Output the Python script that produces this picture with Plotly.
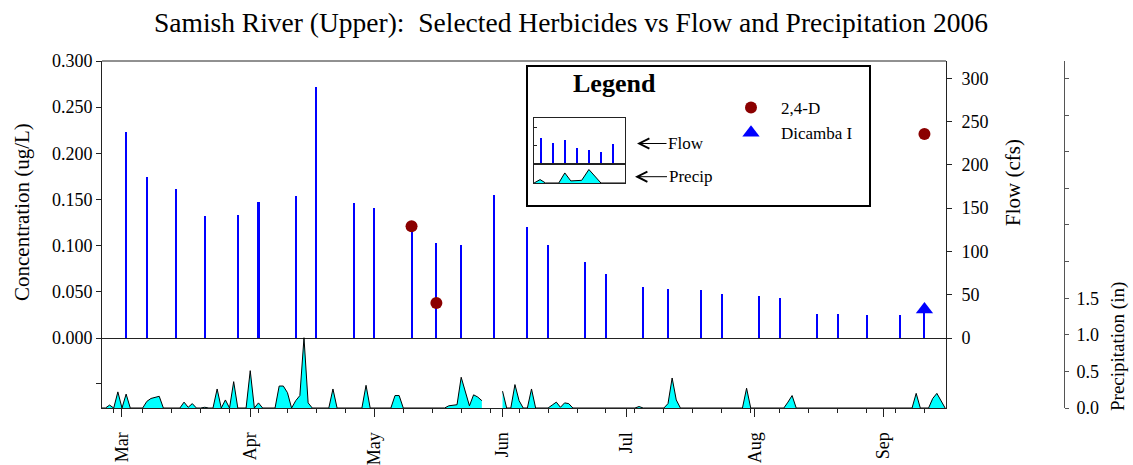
import plotly.graph_objects as go

# ---------------- data ----------------
flow_dates = ["2006-03-02", "2006-03-07", "2006-03-14", "2006-03-21", "2006-03-29",
              "2006-04-03", "2006-04-12", "2006-04-17", "2006-04-26", "2006-05-01",
              "2006-05-10", "2006-05-16", "2006-05-22", "2006-05-30", "2006-06-07",
              "2006-06-12", "2006-06-21", "2006-06-26", "2006-07-05", "2006-07-11",
              "2006-07-19", "2006-07-24", "2006-08-02", "2006-08-07", "2006-08-16",
              "2006-08-21", "2006-08-28", "2006-09-05", "2006-09-11"]
flow_cfs = [238, 186, 172, 141, 142, 157, 164, 290, 156, 150,
            128, 110, 108, 165, 128, 107, 88, 74, 59, 57,
            55, 51, 48, 46, 28, 28, 26.5, 26.5, 30]

d24_dates = ["2006-05-10", "2006-05-16", "2006-09-11"]
d24_conc = [0.121, 0.038, 0.221]
dicamba_dates = ["2006-09-11"]
dicamba_conc = [0.031]

precip_dates = ["2006-02-24", "2006-02-25", "2006-02-26", "2006-02-27", "2006-02-28",
                "2006-03-01", "2006-03-02", "2006-03-03", "2006-03-06", "2006-03-07",
                "2006-03-08", "2006-03-09", "2006-03-10", "2006-03-11", "2006-03-13",
                "2006-03-14", "2006-03-15", "2006-03-16", "2006-03-17", "2006-03-18",
                "2006-03-19", "2006-03-20", "2006-03-21", "2006-03-22", "2006-03-23",
                "2006-03-24", "2006-03-25", "2006-03-26", "2006-03-27", "2006-03-28",
                "2006-03-29", "2006-03-31", "2006-04-01", "2006-04-02", "2006-04-03",
                "2006-04-04", "2006-04-07", "2006-04-08", "2006-04-09", "2006-04-10",
                "2006-04-11", "2006-04-12", "2006-04-13", "2006-04-14", "2006-04-15",
                "2006-04-16", "2006-04-20", "2006-04-21", "2006-04-22", "2006-04-28",
                "2006-04-29", "2006-04-30", "2006-05-05", "2006-05-06", "2006-05-07",
                "2006-05-08", "2006-05-18", "2006-05-19", "2006-05-20", "2006-05-21",
                "2006-05-22", "2006-05-23", "2006-05-24", "2006-05-25", "2006-05-26",
                "2006-05-27", "2006-05-29", "2006-06-01", "2006-06-02", "2006-06-03",
                "2006-06-04", "2006-06-05", "2006-06-06", "2006-06-07", "2006-06-08",
                "2006-06-09", "2006-06-12", "2006-06-13", "2006-06-14", "2006-06-15",
                "2006-06-16", "2006-06-17", "2006-06-18", "2006-07-03", "2006-07-04",
                "2006-07-05", "2006-07-10", "2006-07-11", "2006-07-12", "2006-07-13",
                "2006-07-14", "2006-07-29", "2006-07-30", "2006-07-31", "2006-08-08",
                "2006-08-09", "2006-08-10", "2006-08-11", "2006-09-08", "2006-09-09",
                "2006-09-10", "2006-09-12", "2006-09-13", "2006-09-14", "2006-09-15",
                "2006-09-16"]
precip_in = [0, 0, 0.04, 0, 0.22,
             0, 0.19, 0, 0, 0.09,
             0.13, 0.15, 0.16, 0, 0,
             0.01, 0, 0.08, 0.01, 0.06,
             0, 0, 0.01, 0, 0,
             0.26, 0, 0.11, 0, 0.36,
             0, 0, 0.51, 0, 0.07,
             0, 0, 0.30, 0.30, 0.21,
             0, 0.10, 0.17, 0.96, 0.07,
             0, 0, 0.26, 0, 0,
             0.31, 0, 0, 0.17, 0.17,
             0, 0, 0.03, 0.04, 0.045,
             0.42, 0.23, 0.03, 0.18, 0.15,
             0.10, None, 0.23, 0, 0,
             0.32, 0.10, 0, 0, 0.26,
             0, 0, 0.04, 0.08, 0.01,
             0.07, 0.06, 0, 0, 0.02,
             0, 0, 0.06, 0.41, 0.11,
             0, 0, 0.27, 0, 0,
             0.08, 0.17, 0, 0, 0.20,
             0, 0, 0.13, 0.20, 0.10,
             0]

conc_ticks = [0.0, 0.05, 0.10, 0.15, 0.20, 0.25, 0.30]
flow_ticks = [0, 50, 100, 150, 200, 250, 300]
precip_ticks = [0.0, 0.5, 1.0, 1.5, 2.0, 2.5, 3.0, 3.5, 4.0, 4.5]
precip_ticktext = ["0.0", "0.5", "1.0", "1.5", "", "", "", "", "", ""]

# legend illustration (schematic values)
legend_flow_x = [1, 2, 3, 4, 5, 6, 7]
legend_flow_y = [5.6, 4.5, 5.2, 3.4, 3.0, 2.7, 4.3]
legend_precip_x = [0.45, 0.95, 1.4, 2.5, 3.0, 3.5, 4.4, 5.0, 6.0, 8.0]
legend_precip_y = [0, 0.18, 0, 0, 0.53, 0.11, 0.14, 0.71, 0, 0]

FONT = "Liberation Serif"
AX = "#222222"
DAY_MS = 86400000

fig = go.Figure()

fig.add_trace(go.Bar(x=flow_dates, y=flow_cfs, width=0.5 * DAY_MS,
                     marker=dict(color="#0000FF", line=dict(width=0)),
                     xaxis="x", yaxis="y", showlegend=False, name="Flow"))

# precipitation: split into continuous runs at missing values
runs, cur = [], ([], [])
for d, v in zip(precip_dates, precip_in):
    if v is None:
        if cur[0]:
            runs.append(cur)
        cur = ([], [])
    else:
        cur[0].append(d)
        cur[1].append(v)
if cur[0]:
    runs.append(cur)
for xs, ys in runs:
    fig.add_trace(go.Scatter(x=xs, y=ys, mode="lines",
                             line=dict(color="black", width=1), fill="tozeroy",
                             fillcolor="#00FFFF", xaxis="x", yaxis="y4",
                             showlegend=False, name="Precip"))

# lower panel frame axis (no data of its own)
fig.add_trace(go.Scatter(x=[], y=[], xaxis="x", yaxis="y3", showlegend=False,
                         hoverinfo="skip"))

fig.add_trace(go.Scatter(x=d24_dates, y=d24_conc, mode="markers", name="2,4-D",
                         marker=dict(symbol="circle", size=12, color="#8B0000"),
                         xaxis="x", yaxis="y2"))
fig.add_trace(go.Scatter(x=dicamba_dates, y=dicamba_conc, mode="markers", name="Dicamba I",
                         marker=dict(symbol="triangle-up", size=15, color="#0000FF"),
                         xaxis="x", yaxis="y2"))

# legend illustration inset
fig.add_trace(go.Bar(x=legend_flow_x, y=legend_flow_y, width=0.17,
                     marker=dict(color="#0000FF", line=dict(width=0)),
                     xaxis="x5", yaxis="y5", showlegend=False, hoverinfo="skip"))
fig.add_trace(go.Scatter(x=legend_precip_x, y=legend_precip_y, mode="lines",
                         line=dict(color="black", width=1), fill="tozeroy",
                         fillcolor="#00FFFF", xaxis="x6", yaxis="y6",
                         showlegend=False, hoverinfo="skip"))

# ---------------- geometry ----------------
L, R, T, B = 102, 1064, 61, 408
W, H = R - L, B - T
def px(x):
    return (x - L) / W
def py(y):
    return (B - y) / H

main_lo = py(338)
xdom_end = px(946)
TF = dict(size=18, family=FONT)

fig.update_layout(
    width=1133, height=465, autosize=False,
    margin=dict(l=L, r=1133 - R, t=T, b=465 - B, pad=0, autoexpand=False),
    paper_bgcolor="white", plot_bgcolor="rgba(0,0,0,0)",
    font=dict(family=FONT, size=17, color="black"),
    title=dict(text="Samish River (Upper): \u00a0Selected Herbicides vs Flow and Precipitation 2006",
               x=571 / 1133, xanchor="center", y=1 - 22 / 465, yanchor="middle",
               yref="container", font=dict(family=FONT, size=27.5, color="black")),
    bargap=0,
    xaxis=dict(type="date", domain=[0, xdom_end], anchor="y3",
               range=["2006-02-24 04:00", "2006-09-16 05:00"],
               dtick="M1", tick0="2006-03-01", tickformat="%b", tickangle=-90,
               ticks="outside", ticklen=8, tickcolor=AX, tickwidth=1,
               showline=True, linecolor=AX, linewidth=1,
               showgrid=False, zeroline=False,
               tickfont=TF, ticklabelstandoff=8,
               minor=dict(dtick=7 * DAY_MS, tick0="2006-02-27", ticks="outside",
                          ticklen=4, tickcolor=AX, showgrid=False)),
    yaxis=dict(domain=[main_lo, 1], anchor="x", side="right", range=[0, 320],
               tickvals=flow_ticks, ticks="outside", ticklen=5, tickcolor=AX,
               showline=True, linecolor=AX, linewidth=1, showgrid=False,
               zeroline=True, zerolinecolor=AX, zerolinewidth=1,
               tickfont=TF, ticklabelstandoff=6),
    yaxis2=dict(overlaying="y", anchor="x", side="left", range=[0, 0.3],
                tickvals=conc_ticks, tickformat=".3f", ticks="outside", ticklen=5,
                tickcolor=AX, showline=True, linecolor=AX, linewidth=1,
                showgrid=False, zeroline=False, tickfont=TF),
    yaxis3=dict(domain=[0, main_lo], anchor="x", range=[0, 0.956],
                tickvals=[0.33], showticklabels=False, ticks="outside", ticklen=5,
                tickcolor=AX, showline=True, mirror=True, linecolor=AX, linewidth=1,
                showgrid=False, zeroline=False),
    yaxis4=dict(domain=[0, 1], anchor="free", position=1, side="right",
                range=[0, 4.74], tickvals=precip_ticks, ticktext=precip_ticktext,
                ticks="outside", ticklen=4, tickcolor="#555555",
                showline=True, linecolor="#555555", linewidth=1,
                showgrid=False, zeroline=False,
                tickfont=TF, ticklabelstandoff=4),
    xaxis5=dict(domain=[px(534), px(625)], anchor="y5", range=[0.444, 7.996],
                showline=True, mirror=True, linecolor=AX, linewidth=1,
                showticklabels=False, ticks="", showgrid=False, zeroline=False),
    yaxis5=dict(domain=[py(164), py(118)], anchor="x5", range=[0, 10],
                showline=True, mirror=True, linecolor=AX, linewidth=1,
                tickvals=[4, 8], ticks="inside", ticklen=3, tickcolor=AX,
                showticklabels=False, showgrid=False, zeroline=False),
    xaxis6=dict(domain=[px(534), px(625)], anchor="y6", range=[0.444, 7.996],
                showline=True, mirror=True, linecolor=AX, linewidth=1,
                showticklabels=False, ticks="", showgrid=False, zeroline=False),
    yaxis6=dict(domain=[py(183), py(164)], anchor="x6", range=[0, 1],
                showline=True, mirror=True, linecolor=AX, linewidth=1,
                showticklabels=False, ticks="", showgrid=False, zeroline=False),
    showlegend=True,
    legend=dict(x=px(721), y=py(90), xanchor="left", yanchor="top",
                bgcolor="rgba(0,0,0,0)", borderwidth=0, itemwidth=50,
                font=dict(size=17, family=FONT), tracegroupgap=0),
)

# frame top line and legend box
fig.add_shape(type="line", xref="paper", yref="paper", x0=0, x1=xdom_end, y0=1, y1=1,
              line=dict(color=AX, width=1))
fig.add_shape(type="rect", xref="paper", yref="paper", x0=px(527), x1=px(870),
              y0=py(206), y1=py(66), line=dict(color="black", width=2),
              fillcolor="rgba(0,0,0,0)", layer="above")

ann = [
    dict(text="<b>Legend</b>", x=px(614), y=py(83), font=dict(size=26, family=FONT)),
    dict(text="Concentration (ug/L)", x=px(22), y=py(212), textangle=-90,
         font=dict(size=21, family=FONT)),
    dict(text="Flow (cfs)", x=px(1013), y=py(183), textangle=-90,
         font=dict(size=21, family=FONT)),
    dict(text="Precipitation (in)", x=px(1118), y=py(347), textangle=-90,
         font=dict(size=19, family=FONT)),
]
for a in ann:
    fig.add_annotation(xref="paper", yref="paper", showarrow=False,
                       xanchor="center", yanchor="middle", **a)

fig.add_annotation(xref="paper", yref="paper", x=px(637), y=py(143.5), text="Flow",
                   showarrow=True, ax=49, ay=0, arrowhead=5, arrowsize=2,
                   arrowwidth=1, arrowcolor="black", standoff=0,
                   font=dict(size=17, family=FONT))
fig.add_annotation(xref="paper", yref="paper", x=px(635), y=py(176.7), text="Precip",
                   showarrow=True, ax=55, ay=0, arrowhead=5, arrowsize=2,
                   arrowwidth=1, arrowcolor="black", standoff=0,
                   font=dict(size=17, family=FONT))

fig.write_html("out.html", config={"displayModeBar": False},
               post_script="document.body.style.margin='0';")
